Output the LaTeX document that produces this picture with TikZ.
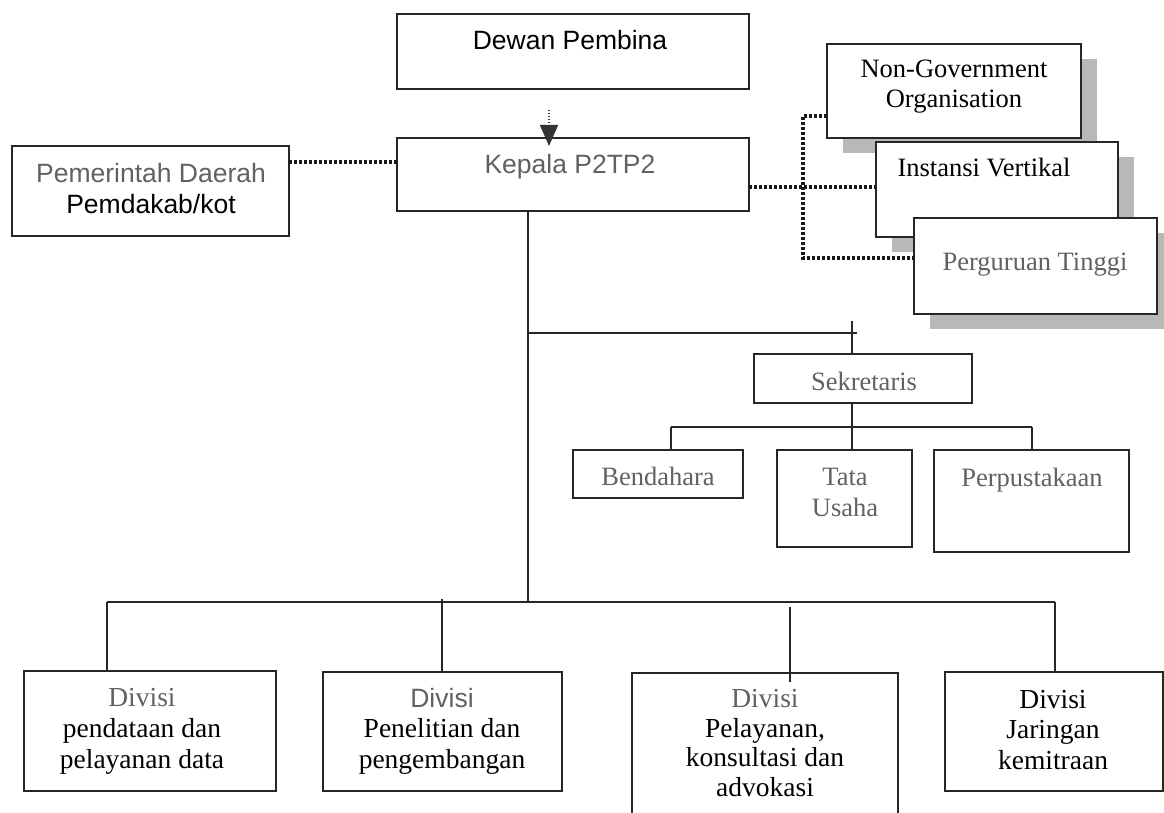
\documentclass[tikz,border=0pt]{standalone}
\usepackage{fontspec}
\setmainfont{Liberation Serif}
\setsansfont{Liberation Sans}
\usetikzlibrary{arrows.meta,shadows,calc}
\tikzset{
  box/.style={rectangle, draw=black!85, line width=1.4pt, fill=white, inner sep=0pt, outer sep=0pt},
  conn/.style={draw=black!85, line width=1.4pt},
  dots/.style={draw=black!90, line width=3.2pt, dash pattern=on 2.6pt off 2.4pt},
  shd/.style={drop shadow={shadow xshift=16pt, shadow yshift=-15pt, fill=black!28, opacity=1}},
  sf/.style={font=\sffamily\fontsize{26.5}{30}\selectfont, inner sep=0pt, anchor=base},
  rm/.style={font=\rmfamily\fontsize{26.5}{30}\selectfont, inner sep=0pt, anchor=base},
  rmb/.style={font=\rmfamily\fontsize{27.5}{31}\selectfont, inner sep=0pt, anchor=base},
  gr/.style={text=black!62},
}
\begin{document}
\begin{tikzpicture}[x=1pt,y=-1pt]
\useasboundingbox (0,0) rectangle (1164,813);
\clip (0,0) rectangle (1164,813);
\fill[white] (0,0) rectangle (1164,813);

% boxes
\node[box, minimum width=352pt, minimum height=75pt] (dew) at (573,51.5) {};
\node[box, minimum width=352pt, minimum height=73pt] (kep) at (573,174.5) {};
\node[box, minimum width=277pt, minimum height=90pt] (pem) at (150.5,191) {};
\node[box, shd, minimum width=254pt, minimum height=94pt] (ngo) at (954,91) {};
\node[box, shd, minimum width=242pt, minimum height=95pt] (ins) at (997,189.5) {};
\node[box, shd, minimum width=243pt, minimum height=96pt] (per) at (1035.5,266) {};
\node[box, minimum width=218pt, minimum height=49pt] (sek) at (863,378.5) {};
\node[box, minimum width=170pt, minimum height=48pt] (ben) at (658,474) {};
\node[box, minimum width=135pt, minimum height=97pt] (tat) at (844.5,498.5) {};
\node[box, minimum width=195pt, minimum height=102pt] (pus) at (1031.5,501) {};
\node[box, minimum width=252pt, minimum height=120pt] (d1) at (150,731) {};
\node[box, minimum width=239pt, minimum height=119pt] (d2) at (442.5,731.5) {};
\node[box, minimum width=266pt, minimum height=162pt] (d3) at (765,754) {};
\node[box, minimum width=218pt, minimum height=119pt] (d4) at (1054,731.5) {};

% texts
\node[sf] (tdew) at (570,50) {Dewan Pembina};
\node[sf, gr] (tkep) at (570,174) {Kepala P2TP2};
\node[sf, gr] (tpem1) at (151,183) {Pemerintah Daerah};
\node[sf] (tpem2) at (151,213) {Pemdakab/kot};
\node[rm] (tngo1) at (954,78) {Non-Government};
\node[rm] (tngo2) at (954,108) {Organisation};
\node[rm] (tins) at (984,177) {Instansi Vertikal};
\node[rm, gr] (tper) at (1035,270) {Perguruan Tinggi};
\node[rm, gr] (tsek) at (864,390) {Sekretaris};
\node[rm, gr] (tben) at (658,485) {Bendahara};
\node[rm, gr] (ttat1) at (845,485) {Tata};
\node[rm, gr] (ttat2) at (845,516) {Usaha};
\node[rm, gr] (tpus) at (1032,486) {Perpustakaan};

\node[rmb, gr] (td1a) at (142,706) {Divisi};
\node[rmb] (td1b) at (142,737) {pendataan dan};
\node[rmb] (td1c) at (142,768) {pelayanan data};
\node[sf, gr] (td2a) at (442,707) {Divisi};
\node[rmb] (td2b) at (442,737) {Penelitian dan};
\node[rmb] (td2c) at (442,768) {pengembangan};
\node[rmb, gr] (td3a) at (765,707) {Divisi};
\node[rmb] (td3b) at (765,737) {Pelayanan,};
\node[rmb] (td3c) at (765,766) {konsultasi dan};
\node[rmb] (td3d) at (765,796) {advokasi};
\node[rmb] (td4a) at (1053,708) {Divisi};
\node[rmb] (td4b) at (1053,738) {Jaringan};
\node[rmb] (td4c) at (1053,769) {kemitraan};

% dotted arrow Dewan -> Kepala
\coordinate (a0) at (549,110);
\draw[draw=black!80, line width=1.5pt, dash pattern=on 1.5pt off 1.5pt,
      -{Triangle[width=18pt,length=21pt,fill=black!80]}]
  (a0) -- ($(kep.north -| a0)+(0,8)$);

% dotted links
\coordinate (jl) at (0,162);
\draw[dots] (pem.east |- jl) -- (kep.west |- jl);
\coordinate (j1) at (803,187);
\coordinate (jt) at (803,116);
\coordinate (jb) at (803,258);
\draw[dots] (kep.east |- j1) -- (ins.west |- j1);
\draw[dots] (ngo.west |- jt) -- (jt) -- (jb) -- (per.west |- jb);

% solid tree
\coordinate (bk) at (528,602);
\coordinate (t1) at (528,333);
\coordinate (t2) at (857,333);
\coordinate (tk) at (852,321);
\draw[conn] (kep.south -| bk) -- (bk);
\draw[conn] (t1) -- (t2);
\draw[conn] (tk) -- (sek.north -| tk);

\coordinate (sb) at (852,427);
\coordinate (sbl) at (671,427);
\coordinate (sbr) at (1032,427);
\draw[conn] (sek.south -| sb) -- (sb);
\draw[conn] (sbl) -- (sbr);
\draw[conn] (sbl) -- (ben.north -| sbl);
\draw[conn] (sb) -- (tat.north -| sb);
\draw[conn] (sbr) -- (pus.north -| sbr);

\coordinate (bl) at (107,602);
\coordinate (br) at (1055,602);
\coordinate (b2) at (442,599);
\coordinate (b3) at (790,607);
\draw[conn] (bl) -- (br);
\draw[conn] (bl) -- (d1.north -| bl);
\draw[conn] (b2) -- (d2.north -| b2);
\draw[conn] (b3) -- ($(d3.north -| b3)+(0,9)$);
\draw[conn] (br) -- (d4.north -| br);
\end{tikzpicture}
\end{document}
